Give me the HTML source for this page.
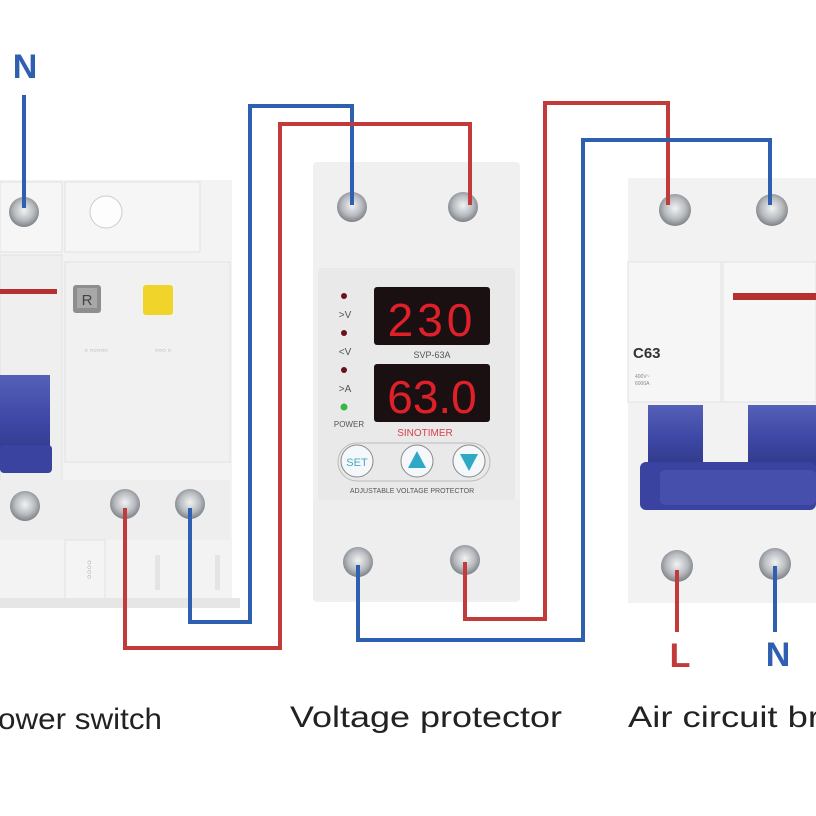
<!DOCTYPE html>
<html><head><style>
html,body{margin:0;padding:0;background:#fff;}
svg{display:block;}
text{font-family:"Liberation Sans",sans-serif;}
</style></head><body>
<svg width="816" height="816" viewBox="0 0 816 816" xmlns="http://www.w3.org/2000/svg">
<defs>
<radialGradient id="scr" cx="50%" cy="45%" r="55%">
<stop offset="0" stop-color="#f2f2f2"/><stop offset="0.6" stop-color="#b8bcc0"/><stop offset="1" stop-color="#7d8286"/>
</radialGradient>
<linearGradient id="blu" x1="0" y1="0" x2="0" y2="1">
<stop offset="0" stop-color="#5560b8"/><stop offset="0.5" stop-color="#3d47a4"/><stop offset="1" stop-color="#2c3580"/>
</linearGradient>
</defs>
<rect width="816" height="816" fill="#fff"/>

<!-- Left RCBO -->
<rect x="0" y="180" width="232" height="425" fill="#f3f3f3"/>
<rect x="0" y="182" width="62" height="70" fill="#f6f6f6" stroke="#e2e2e2"/>
<rect x="65" y="182" width="135" height="70" fill="#f6f6f6" stroke="#e2e2e2"/>
<circle cx="106" cy="212" r="16" fill="#fdfdfd" stroke="#ccc"/>
<rect x="0" y="255" width="62" height="240" fill="#efefef" stroke="#e0e0e0"/>
<rect x="65" y="262" width="165" height="200" fill="#f1f1f1" stroke="#e2e2e2"/>
<rect x="0" y="289" width="57" height="5" fill="#b53030"/>
<rect x="73" y="285" width="28" height="28" rx="3" fill="#8e8e8e"/>
<rect x="77" y="288" width="20" height="20" fill="#a8a8a8"/>
<text x="87" y="305" font-size="15" fill="#444" text-anchor="middle">R</text>
<rect x="143" y="285" width="30" height="30" rx="3" fill="#f0d42a"/>
<text x="96" y="352" font-size="6" fill="#999" text-anchor="middle">○ ○○○○○</text>
<text x="163" y="352" font-size="6" fill="#999" text-anchor="middle">○○○ ○</text>
<rect x="0" y="375" width="50" height="95" fill="url(#blu)"/>
<rect x="0" y="445" width="52" height="28" rx="4" fill="#3a44a0"/>
<rect x="0" y="480" width="230" height="60" fill="#eeeeee"/>
<rect x="65" y="540" width="40" height="65" fill="#f4f4f4" stroke="#e2e2e2"/>
<text x="87" y="560" font-size="8" fill="#999" transform="rotate(90 87 560)">○○○○</text>
<rect x="155" y="555" width="5" height="35" fill="#e4e4e4"/>
<rect x="215" y="555" width="5" height="35" fill="#e4e4e4"/>
<rect x="0" y="598" width="240" height="10" fill="#e6e6e6"/>
<circle cx="24" cy="212" r="15" fill="url(#scr)"/>
<circle cx="25" cy="506" r="15" fill="url(#scr)"/>
<circle cx="125" cy="504" r="15" fill="url(#scr)"/>
<circle cx="190" cy="504" r="15" fill="url(#scr)"/>

<!-- Voltage protector -->
<rect x="313" y="162" width="207" height="440" rx="4" fill="#f0f0f0"/>
<rect x="318" y="268" width="197" height="238" rx="4" fill="#e9e9e9"/>
<rect x="313" y="500" width="207" height="100" fill="#eeeeee"/>
<circle cx="352" cy="207" r="15" fill="url(#scr)"/>
<circle cx="463" cy="207" r="15" fill="url(#scr)"/>
<circle cx="358" cy="562" r="15" fill="url(#scr)"/>
<circle cx="465" cy="560" r="15" fill="url(#scr)"/>
<rect x="374" y="287" width="116" height="58" rx="3" fill="#1a1012"/>
<text x="432" y="336" font-size="46" fill="#e02028" text-anchor="middle" font-family="Liberation Mono" letter-spacing="4">230</text>
<rect x="374" y="364" width="116" height="58" rx="3" fill="#1a1012"/>
<text x="432" y="413" font-size="46" fill="#e02028" text-anchor="middle" font-family="Liberation Mono" letter-spacing="0">63.0</text>
<text x="432" y="358" font-size="9" fill="#555" text-anchor="middle">SVP-63A</text>
<circle cx="344" cy="296" r="3" fill="#6a1020"/>
<text x="345" y="318" font-size="10" fill="#555" text-anchor="middle">&gt;V</text>
<circle cx="344" cy="333" r="3" fill="#6a1020"/>
<text x="345" y="355" font-size="10" fill="#555" text-anchor="middle">&lt;V</text>
<circle cx="344" cy="370" r="3" fill="#6a1020"/>
<text x="345" y="392" font-size="10" fill="#555" text-anchor="middle">&gt;A</text>
<circle cx="344" cy="407" r="3.5" fill="#3bb54a"/>
<text x="349" y="427" font-size="8" fill="#555" text-anchor="middle">POWER</text>
<text x="425" y="436" font-size="10" fill="#d8404a" text-anchor="middle">SINOTIMER</text>
<rect x="338" y="443" width="152" height="38" rx="19" fill="none" stroke="#bbb"/>
<circle cx="357" cy="461" r="16" fill="#f4f8fa" stroke="#888"/>
<text x="357" y="466" font-size="11" fill="#48a8c8" text-anchor="middle">SET</text>
<circle cx="417" cy="461" r="16" fill="#f4f8fa" stroke="#888"/>
<polygon points="417,451 426,468 408,468" fill="#2ea8c4"/>
<circle cx="469" cy="461" r="16" fill="#f4f8fa" stroke="#888"/>
<polygon points="460,454 478,454 469,471" fill="#2ea8c4"/>
<text x="412" y="493" font-size="7" fill="#555" text-anchor="middle">ADJUSTABLE VOLTAGE PROTECTOR</text>

<!-- Right breaker -->
<rect x="628" y="178" width="188" height="425" fill="#f2f2f2"/>
<rect x="628" y="262" width="93" height="140" fill="#f6f6f6" stroke="#e2e2e2"/>
<rect x="723" y="262" width="93" height="140" fill="#f6f6f6" stroke="#e2e2e2"/>
<rect x="733" y="293" width="83" height="7" fill="#b53030"/>
<text x="633" y="358" font-size="15" font-weight="bold" fill="#333">C63</text>
<text x="635" y="378" font-size="5" fill="#888">400V~</text>
<text x="635" y="385" font-size="5" fill="#888">6000A</text>
<rect x="648" y="405" width="55" height="70" fill="url(#blu)"/>
<rect x="748" y="405" width="68" height="70" fill="url(#blu)"/>
<rect x="640" y="462" width="176" height="48" rx="6" fill="#3a44a0"/>
<rect x="660" y="470" width="156" height="35" rx="5" fill="#4650ac"/>
<circle cx="675" cy="210" r="16" fill="url(#scr)"/>
<circle cx="772" cy="210" r="16" fill="url(#scr)"/>
<circle cx="677" cy="566" r="16" fill="url(#scr)"/>
<circle cx="775" cy="564" r="16" fill="url(#scr)"/>

<!-- Wires -->
<g fill="none" stroke-width="4" stroke-linejoin="miter">
<polyline points="24,95 24,208" stroke="#2f5fb0"/>
<polyline points="190,508 190,622 250,622 250,106 352,106 352,205" stroke="#2f5fb0"/>
<polyline points="125,508 125,648 280,648 280,124 470,124 470,205" stroke="#c23a3a"/>
<polyline points="465,562 465,619 545,619 545,103 668,103 668,205" stroke="#c23a3a"/>
<polyline points="358,565 358,640 583,640 583,140 770,140 770,205" stroke="#2f5fb0"/>
<polyline points="677,570 677,632" stroke="#c23a3a"/>
<polyline points="775,566 775,632" stroke="#2f5fb0"/>
</g>

<!-- Labels -->
<text x="25" y="78" font-size="34" font-weight="bold" fill="#2f5fb0" text-anchor="middle">N</text>
<text x="680" y="667" font-size="34" font-weight="bold" fill="#c23a3a" text-anchor="middle">L</text>
<text x="778" y="666" font-size="34" font-weight="bold" fill="#2f5fb0" text-anchor="middle">N</text>
<text x="-2" y="729" font-size="30" fill="#222" textLength="164" lengthAdjust="spacingAndGlyphs">ower switch</text>
<text x="290" y="727" font-size="30" fill="#222" textLength="272" lengthAdjust="spacingAndGlyphs">Voltage protector</text>
<text x="628" y="727" font-size="30" fill="#222" textLength="192" lengthAdjust="spacingAndGlyphs">Air circuit br</text>
</svg>
</body></html>
